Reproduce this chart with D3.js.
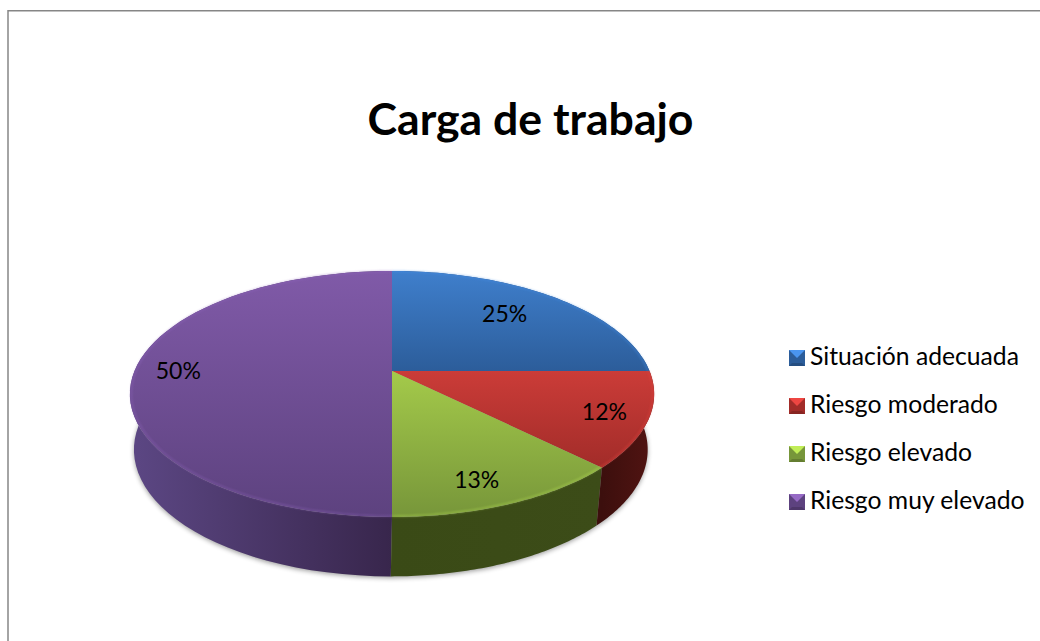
<!DOCTYPE html>
<html><head><meta charset="utf-8">
<style>html,body{margin:0;padding:0;background:#fff;overflow:hidden}svg{display:block}text{font-family:Lato,"Open Sans",sans-serif;fill:#000}</style>
<script src="https://cdn.jsdelivr.net/npm/d3@7/dist/d3.min.js"></script>
</head><body><svg id="c" width="1040" height="641"></svg>
<script>
const title = "Carga de trabajo";
const categories = ["Situación adecuada","Riesgo moderado","Riesgo elevado","Riesgo muy elevado"];
const values = [25,12.49,12.51,50];
const labels = ["25%","12%","13%","50%"];
const topColors = [["#3f7fcc","#2c5d9a"],["#cb3c38","#a22c29"],["#a4ca4a","#77963a"],["#805aa8","#5d427f"]];
const sideColors = [["#24497a","#24497a"],["#3c0f0d","#521412"],["#3a4a16","#3c4c18"],["#5c4784","#38264c"]];

// layout: plan-view angle (degrees) and radius fraction of each data label
const labelPlacement = [[42.3,0.714],[112.7,0.84],[160.3,0.833],[270,0.83]];
const W=1040,H=641,cx=392,cy=371,R=257.5,PH=118.7,k=0.187;
const baseScaleX=0.98,baseShiftX=-1.2,baseScaleY=1.03,baseDrop=55;

const svg=d3.select("#c"), defs=svg.append("defs");
const scaleU=d3.scaleLinear().domain([-1,1]).range([-R,R]);
const scaleV=d3.scaleLinear().domain([-1,1]).range([-PH,PH]);
function project(a,r){const u=r*Math.sin(a),v=-r*Math.cos(a),s=1/(1-k*v);return [cx+scaleU(u)*s,cy+scaleV(v)*s];}
function projectBase(a,extra){const p=project(a,1);return [cx+baseShiftX+(p[0]-cx)*baseScaleX,cy+(p[1]-cy)*baseScaleY+baseDrop+(extra||0)];}
const arcs=d3.pie().sort(null).value(d=>d)(values);
const line=d3.line();
const samples=(a0,a1)=>d3.range(0,61).map(i=>a0+(a1-a0)*i/60);

// chart frame
svg.append("rect").attr("x",8).attr("y",10.75).attr("width",1040).attr("height",640).attr("fill","#fff").attr("stroke","#868686").attr("stroke-width",1.5);

const grad=(id,c,vertical,x1,x2)=>{const g=defs.append("linearGradient").attr("id",id);
  if(vertical){g.attr("x1",0).attr("x2",0).attr("y1",0).attr("y2",1);}else{g.attr("gradientUnits","userSpaceOnUse").attr("x1",x1).attr("x2",x2).attr("y1",0).attr("y2",0);}
  g.append("stop").attr("offset",0).attr("stop-color",c[0]);g.append("stop").attr("offset",1).attr("stop-color",c[1]);};
defs.append("filter").attr("id","blur").attr("x","-10%").attr("y","-30%").attr("width","120%").attr("height","160%").append("feGaussianBlur").attr("stdDeviation",2.5);
defs.append("filter").attr("id","soft").attr("x","-10%").attr("y","-30%").attr("width","120%").attr("height","160%").append("feGaussianBlur").attr("stdDeviation",0.8);

// shadow
svg.append("path").attr("d",line(samples(0,2*Math.PI).map(a=>projectBase(a,1.5)))+"Z").attr("fill","#000").attr("opacity",.4).attr("filter","url(#blur)");

// sides
[0,3,2,1].forEach(i=>{const d=arcs[i];
  const top=samples(d.startAngle,d.endAngle).map(a=>project(a,1));
  const bot=samples(d.endAngle,d.startAngle).map(a=>projectBase(a));
  const ext=d3.extent(top,p=>p[0]);
  grad("s"+i,sideColors[i],false,ext[0],ext[1]);
  svg.append("path").attr("d",line(top.concat(bot))+"Z").attr("fill",`url(#s${i})`);
});

// top faces
arcs.forEach((d,i)=>{
  const pts=[[cx,cy]].concat(samples(d.startAngle,d.endAngle).map(a=>project(a,1)));
  grad("t"+i,topColors[i],true);
  svg.append("path").attr("d",line(pts)+"Z").attr("fill",`url(#t${i})`);
});
// bevel rim along the front edge
arcs.forEach((d,i)=>{
  const rim=samples(d.startAngle,d.endAngle).map(a=>project(a,0.995));
  svg.append("path").attr("d",line(rim)).attr("fill","none").attr("stroke",d3.color(topColors[i][0]).brighter(.35)).attr("stroke-width",1.4).attr("opacity",.5).attr("filter","url(#soft)");
});

// title
svg.append("text").attr("x",530.5).attr("y",135).attr("text-anchor","middle").attr("font-size",44.6).attr("font-weight",700).text(title);

// data labels
arcs.forEach((d,i)=>{const pl=labelPlacement[i],p=project(pl[0]*Math.PI/180,pl[1]);
  svg.append("text").attr("x",p[0]).attr("y",p[1]+8).attr("text-anchor","middle").attr("font-size",23).text(labels[i]);});

// legend
const ly=d3.scalePoint().domain(categories).range([358,502]);
categories.forEach((c,i)=>{const g=svg.append("g").attr("transform",`translate(0,${ly(c)})`);
  const x0=789,s=16,t=-8;
  g.append("rect").attr("x",x0).attr("y",t).attr("width",s).attr("height",s).attr("fill",topColors[i][1]);
  g.append("path").attr("d",line([[x0,t],[x0+s,t],[x0+s/2,t+s/2]])+"Z").attr("fill",d3.color(topColors[i][0]).brighter(.45));
  g.append("path").attr("d",line([[x0,t+s],[x0+s,t+s],[x0+s-3,t+s-3],[x0+3,t+s-3]])+"Z").attr("fill",d3.color(topColors[i][1]).darker(.5));
  g.append("text").attr("x",810).attr("y",6.5).attr("font-size",24.7).text(c);
});
</script></body></html>
